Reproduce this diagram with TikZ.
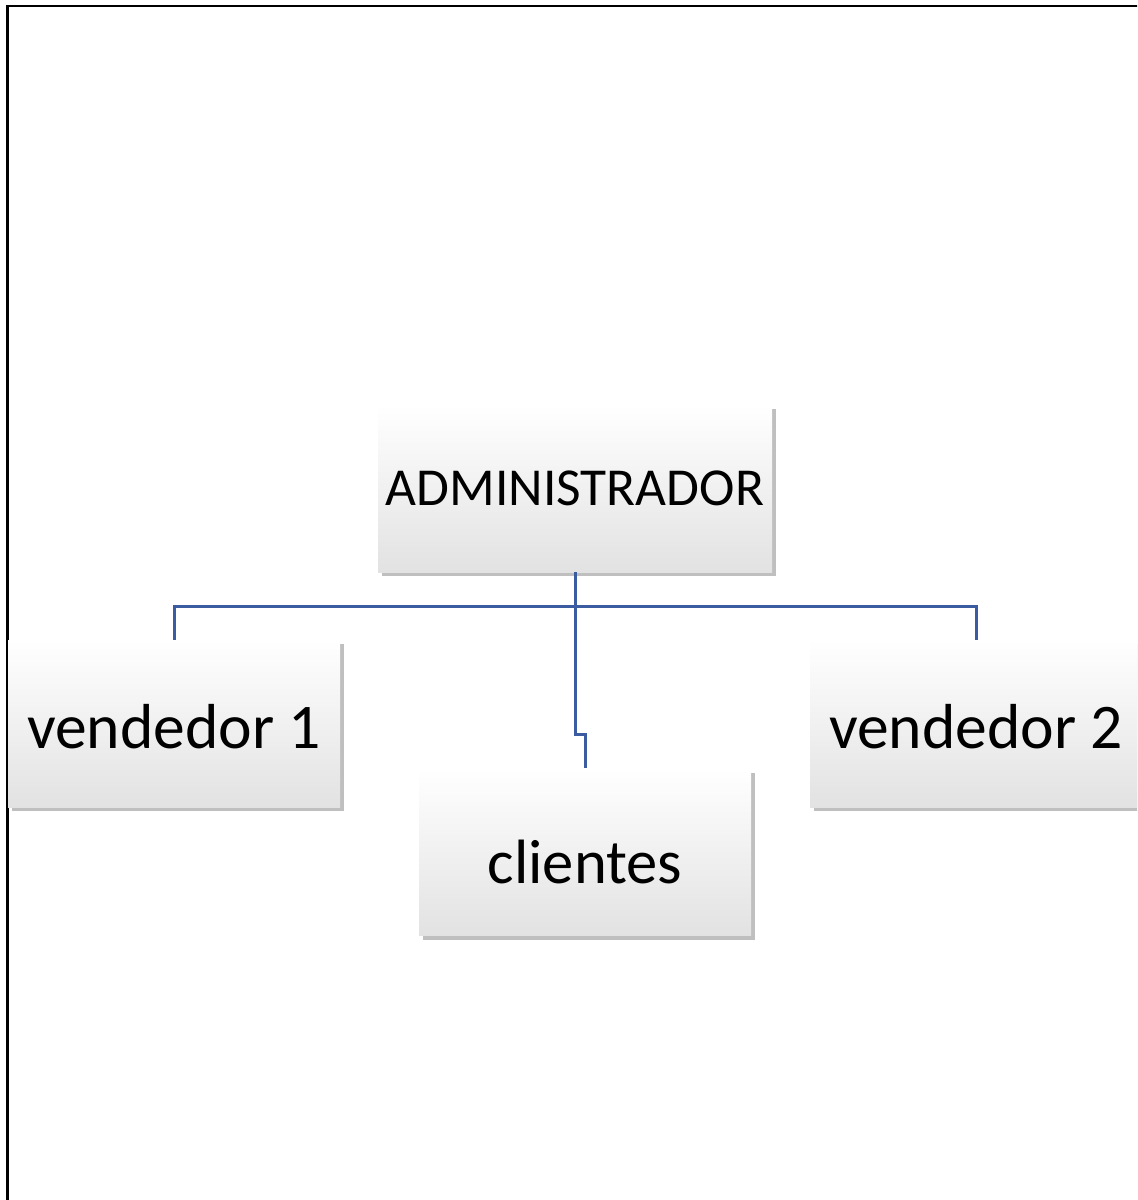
\documentclass[tikz,border=0pt]{standalone}
\usepackage{fontspec}
\setmainfont{Carlito}
\usetikzlibrary{shadows}
\definecolor{connblue}{RGB}{59,92,160}
\definecolor{boxbot}{RGB}{226,226,226}
\begin{document}
\begin{tikzpicture}[x=0.5pt,y=-0.5pt,
  orgbox/.style={rectangle, inner sep=0pt, minimum height=83.5pt,
    top color=white, middle color=white, bottom color=boxbot,
    drop shadow={shadow xshift=1.8pt, shadow yshift=-2.2pt, fill=black, opacity=0.25}},
  conn/.style={draw=connblue, line width=1.5pt}]
\useasboundingbox (0,0) rectangle (1137,1200);
\clip (0,0) rectangle (1137,1200);
\fill[white] (0,0) rectangle (1137,1200);
\draw[line width=1.4pt] (7.5,1260) -- (7.5,6) -- (1200,6);
\node[orgbox, minimum width=197pt, font=\fontsize{26.7}{30}\selectfont] (admin) at (575,488.5) {ADMINISTRADOR};
\node[orgbox, minimum width=166pt, font=\fontsize{31.8}{36}\selectfont, text height=25pt, text depth=0pt] (v1) at (174,723.5) {vendedor 1};
\node[orgbox, minimum width=166pt, font=\fontsize{31.8}{36}\selectfont, text height=25pt, text depth=0pt] (v2) at (976,723.5) {vendedor 2};
\node[orgbox, minimum width=166pt, font=\fontsize{31.3}{36}\selectfont, text height=31pt, text depth=0pt] (cli) at (585,852) {clientes};
\draw[conn] (admin.south) -- ++(0,34) -| (v1.north);
\draw[conn] (admin.south) -- ++(0,34) -| (v2.north);
\draw[conn] (admin.south) -- ++(0,162) -| (cli.north);
\end{tikzpicture}
\end{document}
